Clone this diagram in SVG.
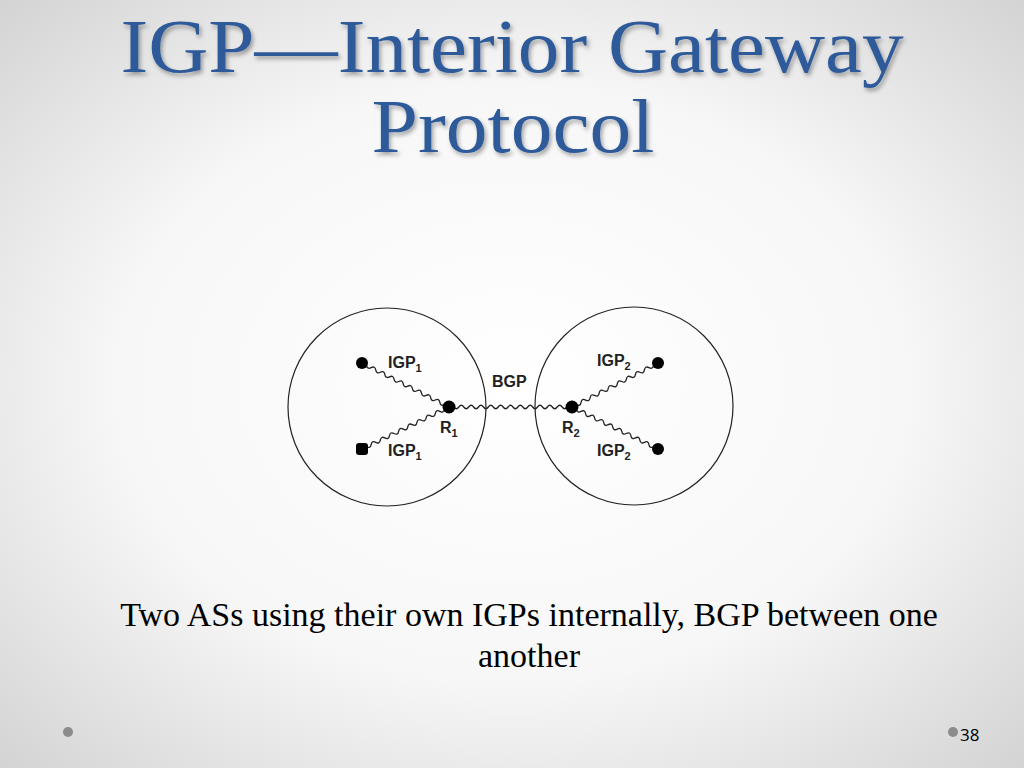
<svg xmlns="http://www.w3.org/2000/svg" width="1024" height="768" viewBox="0 0 1024 768">
<defs>
<radialGradient id="bg" cx="50%" cy="50%" r="70%">
<stop offset="0" stop-color="#ffffff"/>
<stop offset="0.55" stop-color="#f7f7f7"/>
<stop offset="1" stop-color="#d4d4d4"/>
</radialGradient>
<filter id="sh" x="-5%" y="-20%" width="110%" height="140%">
<feDropShadow dx="2" dy="3" stdDeviation="2" flood-color="#000" flood-opacity="0.35"/>
</filter>
<path id="w96" d="M0,0 q2.5,-3.5 5,0 t5,0 t5,0 t5,0 t5,0 t5,0 t5,0 t5,0 t5,0 t5,0 t5,0 t5,0 t5,0 t5,0 t5,0 t5,0 t5,0 t5,0 t5,0"/>
<path id="w124" d="M0,0 q2.5,-3.5 5,0 t5,0 t5,0 t5,0 t5,0 t5,0 t5,0 t5,0 t5,0 t5,0 t5,0 t5,0 t5,0 t5,0 t5,0 t5,0 t5,0 t5,0 t5,0 t5,0 t5,0 t5,0 t5,0 t5,0 t5,0"/>
</defs>
<style>
.title{font-family:"Liberation Serif","DejaVu Serif",serif;font-size:76px;fill:#2e5a9a;text-anchor:middle}
.cap{font-family:"Liberation Serif",serif;font-size:34px;fill:#000;text-anchor:middle}
.lbl{font-family:"Liberation Sans",Arial,sans-serif;font-size:16px;font-weight:bold;fill:#222}
.sub{font-size:11px}
.as{fill:none;stroke:#222;stroke-width:1.2}
.wave{fill:none;stroke:#222;stroke-width:1.3}
.dot{fill:#000}
.foot{fill:#8c8c8c}
</style>
<rect width="1024" height="768" fill="url(#bg)"/>
<g id="title" filter="url(#sh)">
<text class="title" x="512" y="72" textLength="783" lengthAdjust="spacingAndGlyphs">IGP—Interior Gateway</text>
<text class="title" x="513" y="152" textLength="283" lengthAdjust="spacingAndGlyphs">Protocol</text>
</g>
<g id="AS1"><circle class="as" cx="387" cy="407" r="99"/></g>
<g id="AS2"><circle class="as" cx="634" cy="406" r="99"/></g>
<g id="connectors">
<use href="#w96" class="wave" transform="translate(362,363) rotate(26.8) scale(1.026,1)"/>
<use href="#w96" class="wave" transform="translate(362,449) rotate(-25.8) scale(1.017,1)"/>
<use href="#w124" class="wave" transform="translate(449,407) scale(0.984,1)"/>
<use href="#w96" class="wave" transform="translate(572,407) rotate(-27.1) scale(1.017,1)"/>
<use href="#w96" class="wave" transform="translate(572,407) rotate(26) scale(1.007,1)"/>
</g>
<g id="n1a"><circle class="dot" cx="362" cy="363" r="6"/><text class="lbl" x="388" y="368">IGP<tspan class="sub" dy="4">1</tspan></text></g>
<g id="n1b"><rect class="dot" x="356" y="443" width="12" height="12" rx="3"/><text class="lbl" x="388" y="456">IGP<tspan class="sub" dy="4">1</tspan></text></g>
<g id="R1"><circle class="dot" cx="449" cy="407" r="6.5"/><text class="lbl" x="440" y="433">R<tspan class="sub" dy="4">1</tspan></text></g>
<g id="R2"><circle class="dot" cx="572" cy="407" r="6.5"/><text class="lbl" x="562" y="433">R<tspan class="sub" dy="4">2</tspan></text></g>
<g id="n2a"><circle class="dot" cx="658" cy="363" r="6"/><text class="lbl" x="597" y="366">IGP<tspan class="sub" dy="4">2</tspan></text></g>
<g id="n2b"><circle class="dot" cx="658" cy="449" r="6"/><text class="lbl" x="597" y="456">IGP<tspan class="sub" dy="4">2</tspan></text></g>
<text class="lbl" x="492" y="387">BGP</text>
<g id="caption">
<text class="cap" x="529" y="626">Two ASs using their own IGPs internally, BGP between one</text>
<text class="cap" x="529" y="667">another</text>
</g>
<g id="footer">
<circle class="foot" cx="68" cy="732" r="5"/>
<circle class="foot" cx="953" cy="732" r="5"/>
<text x="960" y="741" font-family="'Open Sans','Liberation Sans',sans-serif" font-size="17" fill="#000">38</text>
</g>
</svg>
